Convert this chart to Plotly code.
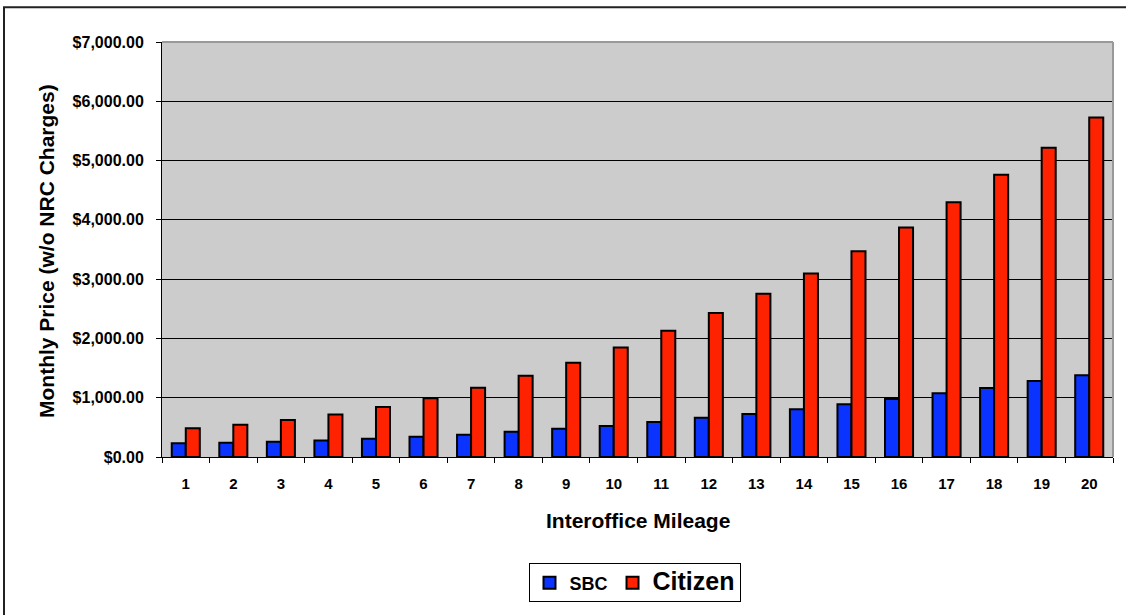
import plotly.graph_objects as go

# Interoffice mileage categories and monthly prices (w/o NRC charges)
mileage = [str(i) for i in range(1, 21)]
sbc = [230, 240, 257, 280, 307, 341, 374, 425, 475, 525,
       592, 660, 727, 805, 889, 978, 1074, 1163, 1280, 1381]
citizen = [487, 542, 626, 716, 844, 990, 1169, 1371, 1589, 1846,
           2131, 2430, 2752, 3095, 3470, 3873, 4295, 4760, 5218, 5725]

y_ticks = [0, 1000, 2000, 3000, 4000, 5000, 6000, 7000]

FONT = "Liberation Sans, Arial, sans-serif"

# plot-area geometry in pixels (used to place frame and labels in paper units)
W, H = 1126, 615
L, R, T, B = 162, 13, 42, 156
PW, PH = W - L - R, H - T - B


def px(x):
    return (x - L) / PW


def py(y):
    return (H - B - y) / PH


fig = go.Figure()
fig.add_trace(go.Bar(
    x=mileage, y=sbc, name="SBC",
    marker=dict(color="#0A33FF", line=dict(color="#000000", width=2)),
))
fig.add_trace(go.Bar(
    x=mileage, y=citizen, name="<span style='font-size:25px'>Citizen</span>",
    marker=dict(color="#FF2200", line=dict(color="#000000", width=2)),
))

fig.update_layout(
    width=W, height=H,
    margin=dict(l=L, r=R, t=T, b=B, pad=0),
    paper_bgcolor="#FFFFFF",
    plot_bgcolor="#CCCCCC",
    barmode="group",
    bargap=0.41,
    bargroupgap=0,
    font=dict(family=FONT, color="#000000"),
    showlegend=True,
    legend=dict(
        orientation="h",
        x=px(634.5), xanchor="center",
        y=py(566), yanchor="top",
        bordercolor="#000000", borderwidth=1,
        bgcolor="#FFFFFF",
        font=dict(family=FONT, size=18, color="#000000", weight="bold"),
        itemwidth=30,
        traceorder="normal",
    ),
    xaxis=dict(
        type="category",
        tickson="boundaries",
        ticks="outside", ticklen=5, tickcolor="#000000", tickwidth=1,
        showline=True, linecolor="#000000", linewidth=1,
        showgrid=False,
        tickfont=dict(family=FONT, size=15, color="#000000", weight="bold"),
        ticklabelstandoff=13,
    ),
    yaxis=dict(
        range=[0, 7000],
        tickvals=y_ticks,
        tickformat="$,.2f",
        ticks="outside", ticklen=5, tickcolor="#000000", tickwidth=1,
        showline=True, linecolor="#000000", linewidth=1,
        showgrid=True, gridcolor="#000000", gridwidth=1,
        zeroline=False,
        tickfont=dict(family=FONT, size=16, color="#000000", weight="bold"),
        ticklabelstandoff=9,
    ),
    shapes=[
        # outer chart frame
        dict(type="rect", xref="paper", yref="paper",
             x0=px(4), x1=px(1180), y0=py(640), y1=py(7),
             line=dict(color="#222222", width=2), layer="above"),
        # plot-area border (top and right)
        dict(type="line", xref="paper", yref="paper",
             x0=0, x1=1, y0=1, y1=1,
             line=dict(color="#999999", width=2), layer="above"),
        dict(type="line", xref="paper", yref="paper",
             x0=1, x1=1, y0=0, y1=1,
             line=dict(color="#999999", width=2), layer="above"),
    ],
    annotations=[
        dict(text="<b>Monthly Price (w/o NRC Charges)</b>", textangle=-90,
             xref="paper", yref="paper", x=px(47), y=py(252),
             xanchor="center", yanchor="middle", showarrow=False,
             font=dict(family=FONT, size=21, color="#000000")),
        dict(text="<b>Interoffice Mileage</b>",
             xref="paper", yref="paper", x=px(638), y=py(523),
             xanchor="center", yanchor="middle", showarrow=False,
             font=dict(family=FONT, size=21, color="#000000")),
    ],
)

fig.write_html("out.html")
